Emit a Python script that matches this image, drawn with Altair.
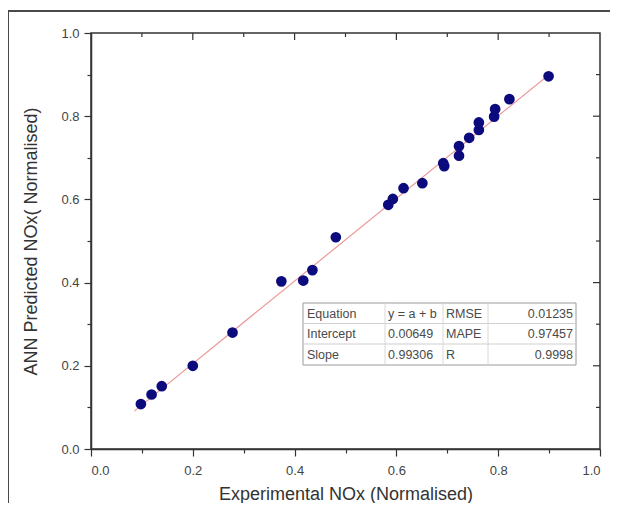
import altair as alt
import pandas as pd

# ---- data ----
exp_nox = [0.098, 0.119, 0.139, 0.200, 0.278, 0.374, 0.417, 0.435, 0.481,
           0.584, 0.593, 0.614, 0.651, 0.692, 0.694, 0.723, 0.723, 0.743,
           0.762, 0.762, 0.792, 0.794, 0.822, 0.899]
ann_nox = [0.108, 0.131, 0.151, 0.200, 0.280, 0.403, 0.405, 0.430, 0.509,
           0.587, 0.601, 0.627, 0.639, 0.687, 0.680, 0.705, 0.728, 0.748,
           0.767, 0.785, 0.799, 0.817, 0.841, 0.896]

fit_x = [0.085, 0.905]
fit_y = [0.091, 0.905]

major_ticks = [0.0, 0.2, 0.4, 0.6, 0.8, 1.0]
minor_ticks = [0.1, 0.3, 0.5, 0.7, 0.9]
inner_major = [0.2, 0.4, 0.6, 0.8]
inner_minor = [0.1, 0.3, 0.5, 0.7, 0.9]

table_col1 = ["Equation", "Intercept", "Slope"]
table_col2 = ["y = a + b", "0.00649", "0.99306"]
table_col3 = ["RMSE", "MAPE", "R"]
table_col4 = ["0.01235", "0.97457", "0.9998"]

x_title = "Experimental NOx (Normalised)"
y_title = "ANN Predicted NOx( Normalised)"

# ---- layout constants ----
W, H = 509, 416
FONT = "Liberation Sans"

pts = pd.DataFrame({"x": exp_nox, "y": ann_nox})
fit = pd.DataFrame({"x": fit_x, "y": fit_y})

all_ticks = sorted(major_ticks + minor_ticks)
tick_cond = {"condition": {"test": "round(datum.value*10) % 2 == 0", "value": 7}, "value": 4}
label_expr = "round(datum.value*10) % 2 == 0 ? format(datum.value, '.1f') : ''"

xscale = alt.Scale(domain=[0, 1], nice=False, zero=False)
yscale = alt.Scale(domain=[0, 1], nice=False, zero=False)

xaxis = alt.Axis(values=all_ticks, labelExpr=label_expr, tickSize=tick_cond,
                 title=x_title, grid=False, titlePadding=8)
yaxis = alt.Axis(values=all_ticks, labelExpr=label_expr, tickSize=tick_cond,
                 title=y_title, grid=False, titlePadding=20)

one = pd.DataFrame({"a": [0]})

# outer frame of the figure (only its top and left edges fall inside the view)
frame = alt.Chart(one).mark_rect(fillOpacity=0, stroke="#4a4a4a", strokeWidth=2).encode(
    x=alt.value(-83), x2=alt.value(700), y=alt.value(-22), y2=alt.value(700))

line = alt.Chart(fit).mark_line(color="#ec9a9a", strokeWidth=1.2).encode(
    x=alt.X("x:Q", scale=xscale, axis=xaxis),
    y=alt.Y("y:Q", scale=yscale, axis=yaxis),
)

dots = alt.Chart(pts).mark_circle(color="#0b0b7e", size=115, opacity=1).encode(
    x=alt.X("x:Q", scale=xscale),
    y=alt.Y("y:Q", scale=yscale),
)

layers = [frame, line, dots]

# inward ticks on top and right edges
def top_ticks(vals, ln):
    return alt.Chart(pd.DataFrame({"v": vals})).mark_rule(color="#333", strokeWidth=1.2).encode(
        x=alt.X("v:Q", scale=xscale), y=alt.value(0), y2=alt.value(ln))

def right_ticks(vals, ln):
    return alt.Chart(pd.DataFrame({"v": vals})).mark_rule(color="#333", strokeWidth=1.2).encode(
        y=alt.Y("v:Q", scale=yscale), x=alt.value(W), x2=alt.value(W - ln))

layers += [top_ticks(inner_major, 7), top_ticks(inner_minor, 4),
           right_ticks(inner_major, 7), right_ticks(inner_minor, 4)]

# table (positions in pixels within plot area)
TL, TR, TT, TB = 212, 485, 270, 332
row_lines = [290.5, 311]
col_lines = [294, 352, 397]
row_y = [280.5, 301, 321.5]

layers.append(alt.Chart(one).mark_rect(fill="white", stroke="#9a9a9a", strokeWidth=1).encode(
    x=alt.value(TL), x2=alt.value(TR), y=alt.value(TT), y2=alt.value(TB)))
for ry in row_lines:
    layers.append(alt.Chart(one).mark_rule(color="#cfcfcf", strokeWidth=1).encode(
        x=alt.value(TL), x2=alt.value(TR), y=alt.value(ry)))
for cx in col_lines:
    layers.append(alt.Chart(one).mark_rule(color="#d8d8d8", strokeWidth=1).encode(
        x=alt.value(cx), y=alt.value(TT), y2=alt.value(TB)))

cols = [(table_col1, TL + 4, "left"), (table_col2, col_lines[0] + 3, "left"),
        (table_col3, col_lines[1] + 3, "left"), (table_col4, TR - 3, "right")]
for texts, cx, al in cols:
    for t, ry in zip(texts, row_y):
        layers.append(alt.Chart(pd.DataFrame({"t": [t]})).mark_text(
            align=al, baseline="middle", font=FONT, fontSize=12.5, color="#4a4a4a").encode(
            text="t:N", x=alt.value(cx), y=alt.value(ry)))

chart = alt.layer(*layers).properties(
    width=W, height=H,
    autosize=alt.AutoSizeParams(type="none"),
    padding={"left": 83, "top": 25, "right": 10, "bottom": 54},
    background="white",
).configure_view(
    stroke="#333", strokeWidth=1.5
).configure_axis(
    domainColor="#333", domainWidth=1.5, tickColor="#333", tickWidth=1.2,
    labelFont=FONT, labelFontSize=13, labelColor="#444", labelPadding=5,
    titleFont=FONT, titleFontSize=18, titleColor="#333", titleFontWeight="normal",
).configure_axisX(labelPadding=8)

chart.save("out.html", embed_options={"renderer": "svg", "actions": False})
